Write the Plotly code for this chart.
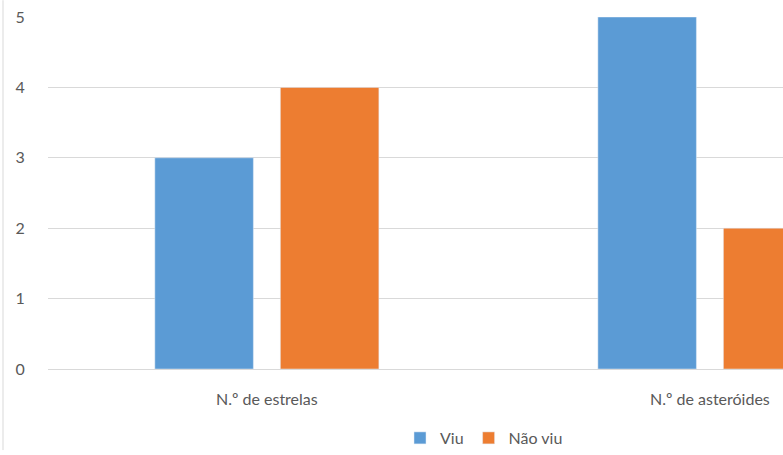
import plotly.graph_objects as go

categories = ["N.º de estrelas", "N.º de asteróides"]
viu = [3, 5]
nao_viu = [4, 2]
series_names = ["Viu", "Não viu"]
y_ticks = [0, 1, 2, 3, 4, 5]

W, H = 783, 455
ml, mr, mt, mb = 48, 0, 17, 82
pw = W - ml - mr
ph = H - mt - mb

font_color = "#595959"
grid_color = "#d9d9d9"
fam = "Lato, Open Sans, sans-serif"

fig = go.Figure()
fig.add_trace(go.Bar(x=categories, y=viu, name=series_names[0], marker_color="#5B9BD5"))
fig.add_trace(go.Bar(x=categories, y=nao_viu, name=series_names[1], marker_color="#ED7D31"))

fig.update_layout(
    width=W, height=H,
    margin=dict(l=ml, r=mr, t=mt, b=mb, pad=0),
    paper_bgcolor="white", plot_bgcolor="white",
    barmode="group", bargap=0.4334, bargroupgap=0.215,
    font=dict(family=fam, size=16, color=font_color),
    showlegend=True,
    legend=dict(orientation="h", x=(484 - ml) / pw, xanchor="center",
                y=(ph - (443 - mt)) / ph, yanchor="middle",
                font=dict(size=16, color=font_color), itemwidth=30,
                traceorder="normal"),
    xaxis=dict(type="category", range=[-0.494, 1.165], showgrid=False,
               showline=False, zeroline=False,
               ticks="outside", ticklen=16, tickcolor="rgba(0,0,0,0)",
               tickfont=dict(size=16, color=font_color)),
    yaxis=dict(range=[0, 5], tickvals=y_ticks, showgrid=True, gridcolor=grid_color,
               gridwidth=1, zeroline=True, zerolinecolor=grid_color, zerolinewidth=1,
               showline=False,
               ticks="outside", ticklen=19, tickcolor="rgba(0,0,0,0)",
               tickfont=dict(size=16, color=font_color)),
)

fig.add_shape(type="line", xref="paper", yref="paper",
              x0=(3 - ml) / pw, x1=(3 - ml) / pw,
              y0=-mb / ph, y1=1 + mt / ph,
              line=dict(color=grid_color, width=1))

fig.write_html("out.html")
